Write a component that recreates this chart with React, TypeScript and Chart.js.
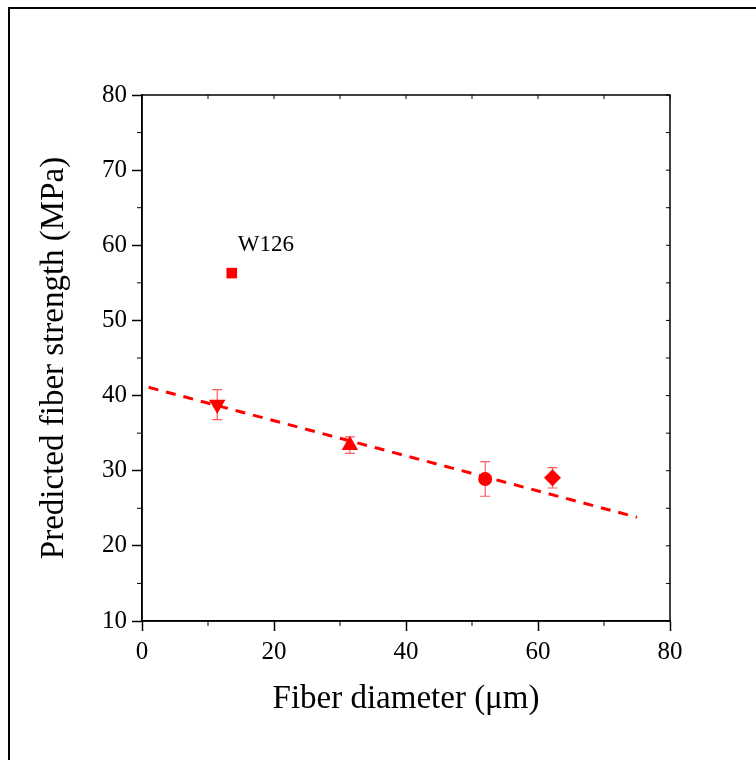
import React, { useEffect, useRef } from "react";
import { Chart, registerables } from "chart.js";

Chart.register(...registerables);

// ---- data ----
const sampleLabels = ["W126", "", "", "", ""];
const diameters = [13.6, 11.4, 31.5, 52.0, 62.2];
const strengths = [56.3, 38.8, 33.4, 28.9, 29.05];
const errors = [0, 2.0, 1.1, 2.3, 1.35];
const markerStyles = ["rect", "triangle", "triangle", "circle", "rectRot"];
const markerRotations = [0, 180, 0, 0, 0];
const markerSizes = [7.5, 9.5, 9.5, 7, 8.5];
const fitX = [1, 75];
const fitY = [41.1, 23.8];
const xTicks = [0, 20, 40, 60, 80];
const yTicks = [10, 20, 30, 40, 50, 60, 70, 80];
const xTitle = "Fiber diameter (\u03bcm)";
const yTitle = "Predicted fiber strength (MPa)";
const labelAnchor = { x: 14.5, y: 60.0 };

const FONT = "'Liberation Serif', 'Times New Roman', serif";
const RED = "#ff0000";

const decorPlugin = {
  id: "decor",
  beforeDraw(chart: any) {
    const { ctx, width, height } = chart;
    ctx.save();
    ctx.fillStyle = "#ffffff";
    ctx.fillRect(0, 0, width, height);
    ctx.strokeStyle = "#000";
    ctx.lineWidth = 2;
    ctx.beginPath();
    ctx.moveTo(9, height + 5);
    ctx.lineTo(9, 8);
    ctx.lineTo(width + 5, 8);
    ctx.stroke();
    ctx.restore();
  },
  beforeDatasetsDraw(chart: any) {
    const { ctx, scales } = chart;
    const xs = scales.x;
    const ys = scales.y;
    ctx.save();
    ctx.strokeStyle = "rgba(255,50,50,0.8)";
    ctx.lineWidth = 1.2;
    for (let i = 0; i < diameters.length; i++) {
      if (!errors[i]) continue;
      const px = xs.getPixelForValue(diameters[i]);
      const top = ys.getPixelForValue(strengths[i] + errors[i]);
      const bot = ys.getPixelForValue(strengths[i] - errors[i]);
      ctx.beginPath();
      ctx.moveTo(px, top);
      ctx.lineTo(px, bot);
      ctx.moveTo(px - 5, top);
      ctx.lineTo(px + 5, top);
      ctx.moveTo(px - 5, bot);
      ctx.lineTo(px + 5, bot);
      ctx.stroke();
    }
    ctx.restore();
  },
  afterDraw(chart: any) {
    const { ctx, scales, chartArea } = chart;
    const xs = scales.x;
    const ys = scales.y;
    const { left, right, top, bottom } = chartArea;
    ctx.save();
    ctx.strokeStyle = "#000";
    ctx.lineWidth = 1.5;
    ctx.strokeRect(left, top, right - left, bottom - top);
    ctx.lineWidth = 1;
    ctx.beginPath();
    for (let v = 0; v <= 80; v += 10) {
      const px = xs.getPixelForValue(v);
      if (v % 20 !== 0) {
        ctx.moveTo(px, bottom);
        ctx.lineTo(px, bottom + 5);
      }
      ctx.moveTo(px, top);
      ctx.lineTo(px, top + 4);
    }
    for (let v = 10; v <= 80; v += 5) {
      const py = ys.getPixelForValue(v);
      if (v % 10 !== 0) {
        ctx.moveTo(left, py);
        ctx.lineTo(left - 5, py);
      }
      ctx.moveTo(right, py);
      ctx.lineTo(right - 4, py);
    }
    ctx.stroke();
    ctx.fillStyle = "#000";
    ctx.font = `23px ${FONT}`;
    ctx.textAlign = "left";
    ctx.textBaseline = "middle";
    ctx.fillText(
      sampleLabels[0],
      xs.getPixelForValue(labelAnchor.x),
      ys.getPixelForValue(labelAnchor.y)
    );
    ctx.restore();
  },
};

export default function App() {
  const ref = useRef<HTMLCanvasElement | null>(null);
  useEffect(() => {
    if (!ref.current) return;
    const chart = new Chart(ref.current, {
      type: "scatter",
      data: {
        datasets: [
          {
            type: "line",
            label: "fit",
            data: fitX.map((x, i) => ({ x, y: fitY[i] })),
            borderColor: RED,
            borderWidth: 3,
            borderDash: [10, 8],
            pointRadius: 0,
            fill: false,
            order: 2,
          } as any,
          {
            label: "samples",
            data: diameters.map((x, i) => ({ x, y: strengths[i] })),
            pointStyle: markerStyles as any,
            rotation: markerRotations as any,
            pointRadius: markerSizes,
            backgroundColor: RED,
            borderColor: RED,
            borderWidth: 0,
            order: 1,
          } as any,
        ],
      },
      options: {
        responsive: false,
        animation: false,
        events: [],
        layout: { padding: { left: 0, top: 95, right: 86, bottom: 0 } },
        plugins: {
          legend: { display: false },
          tooltip: { enabled: false },
        },
        scales: {
          x: {
            type: "linear",
            min: 0,
            max: 80,
            afterBuildTicks: (s: any) => {
              s.ticks = xTicks.map((v) => ({ value: v }));
            },
            afterFit: (s: any) => {
              s.height = 139;
            },
            ticks: {
              font: { family: FONT, size: 25 },
              color: "#000",
              padding: 6,
              maxRotation: 0,
            },
            grid: {
              drawOnChartArea: false,
              drawTicks: true,
              tickLength: 10,
              tickColor: "#000",
              tickWidth: 1.5,
            },
            border: { display: true, color: "#000", width: 1.5 },
            title: {
              display: true,
              text: xTitle,
              font: { family: FONT, size: 33 },
              color: "#000",
              padding: { top: 0, bottom: 41 },
            },
          },
          y: {
            type: "linear",
            min: 10,
            max: 80,
            afterBuildTicks: (s: any) => {
              s.ticks = yTicks.map((v) => ({ value: v }));
            },
            afterFit: (s: any) => {
              s.width = 142;
            },
            ticks: {
              font: { family: FONT, size: 25 },
              color: "#000",
              padding: 5,
            },
            grid: {
              drawOnChartArea: false,
              drawTicks: true,
              tickLength: 10,
              tickColor: "#000",
              tickWidth: 1.5,
            },
            border: { display: true, color: "#000", width: 1.5 },
            title: {
              display: true,
              text: yTitle,
              font: { family: FONT, size: 33 },
              color: "#000",
              padding: { top: 35, bottom: 0 },
            },
          },
        },
      },
      plugins: [decorPlugin],
    } as any);
    return () => chart.destroy();
  }, []);
  return (
    <div style={{ position: "absolute", left: 0, top: 0, width: 756, height: 760 }}>
      <canvas ref={ref} width={756} height={760} style={{ display: "block" }} />
    </div>
  );
}
